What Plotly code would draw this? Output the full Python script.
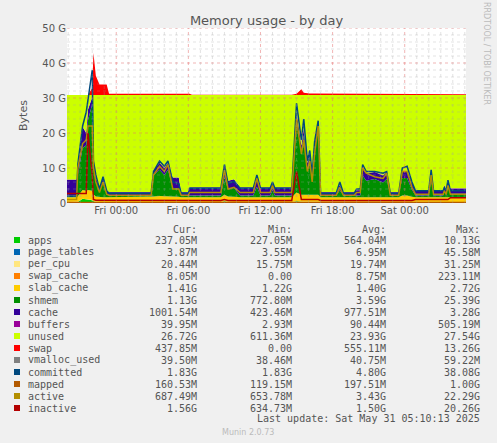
import plotly.graph_objects as go
from datetime import datetime, timedelta

hours = [-4.1,-3.3,-3.2,-2.8,-2.5,-2.35,-2.0,-1.9,-1.7,-1.4,-1.1,-0.8,-0.6,2.9,3.1,3.6,4.0,4.3,4.7,5.2,5.4,6.0,6.1,6.3,8.7,
         9.0,9.3,9.8,10.3,11.4,11.7,12.0,12.8,13.0,13.2,14.6,15.0,15.4,15.6,15.9,16.1,16.3,16.5,16.8,17.0,18.3,18.6,18.9,19.8,
         20.0,20.3,20.5,20.8,21.5,22.2,22.5,22.8,23.5,23.8,24.2,24.6,24.9,26.0,26.2,26.4,27.2,27.3,27.45,27.6,27.8,29.1]
apps = [.24,.24,.3,1.2,1,1,.8,.5,.3,.24,.24,.24,.24,.24,.24,.24,.24,.24,.24,.24,.24,.24,.24,.24,.24,
        .5,.3,.24,.24,.24,.24,.24,.24,.24,.24,.24,.5,.3,.3,.3,.3,.3,.3,.3,.24,.24,.24,.24,.24,
        .24,.24,.24,.24,.24,.24,.24,.24,.24,.3,.3,.24,.24,.24,.24,.24,.24,.24,.24,.24,.24,.24]
slab_cache = [1.4,1.4,1.6,2.5,2.5,2.7,2.7,2,1.5,1.4,1.4,1.4,1.4,1.4,1.6,1.7,1.7,1.7,1.5,1.5,1.4,1.4,1.4,1.4,1.4,
              1.8,1.5,1.5,1.4,1.4,1.4,1.4,1.4,1.4,1.4,1.4,2.5,2,2,2,2,2,2,2,1.4,1.4,1.4,1.4,1.4,
              1.4,1.4,1.6,1.6,1.6,1.6,1.6,1.4,1.4,1.8,1.8,1.5,1.4,1.4,1.4,1.4,1.4,1.4,1.4,1.4,1.4,1.4]
shmem = [.5,.5,6,12,13,20,24.7,8,4,1.5,4.5,1.0,.5,.5,6,7.5,6,7.5,2.5,2.5,.5,.5,.5,.5,.5,
         5,2,2.5,.5,.5,3,.5,.5,2,.5,.5,20,12,17,7,11,5,13,19,.5,.5,2,.5,.5,
         .5,.5,6,4.5,5,4,5,.5,.5,5,5,2,.5,.5,5,.5,.5,2,.5,3,1,1]
cache = [4.5,4.5,2,6,3.5,3,2,2,1.5,1,1,.9,.9,.9,1.5,2,2,2,3,3,.9,.9,2.3,2.3,2.3,
         3,2.5,2.5,2.3,2.3,2.5,2.3,2.3,2.3,2.3,2.3,3,2,2,2,2,2,2,2,.9,.9,1.5,.9,.9,
         1.5,1.5,2,2,2,2,2,.9,.9,2,2,2,1.5,1.5,2.5,1.5,1.5,1.5,1.5,2,1.5,1.5]
unused = [24.18,24.18,20.92,9.12,10.82,4.12,0.62,18.32,23.52,26.68,23.68,27.28,27.78,27.78,21.48,19.38,20.88,19.38,23.58,23.58,27.78,27.78,26.38,26.38,26.38,
          20.52,24.52,24.08,26.38,26.38,23.68,26.38,26.38,24.88,26.38,26.38,4.82,14.52,9.52,19.52,15.52,21.52,13.52,7.52,27.78,27.78,25.68,27.78,27.78,
          27.18,27.18,20.98,22.48,21.98,22.98,21.98,27.78,27.78,21.72,21.72,25.08,27.18,27.18,21.68,27.18,27.18,25.68,27.18,24.18,26.68,26.68]
swap = [0,0,0,0,0,0,2,12,5.5,3,3,3,.3,.3,.3,.3,.3,.3,.3,.3,.3,.3,.3,.05,.05,
        .05,.05,.05,.05,.05,.05,.05,.05,.05,.05,.05,.3,1.6,.6,.4,.4,.4,.4,.4,.4,.4,.4,.4,.4,
        .4,.2,.2,.2,.2,.2,.2,.2,.2,.2,.2,.2,.2,.2,.2,.2,.2,.2,.2,.2,.2,.2]
committed = [1.9,1.9,11,22,26,30,38,12,8,4,7.5,3.5,2.8,2.8,9,12,10.5,12,6,5.5,2.8,2.8,4.2,4.2,4.2,
             11,5.5,6.2,4.2,4.2,8,4.2,4.2,6,4.2,4.2,28.5,18,24,12,15,8,17.5,23.5,2.8,2.8,6,2.8,2.8,
             4,4,11,9,9,8.5,9,2.8,2.8,10,10.5,6,3.5,3.5,9.5,3.5,3.5,4.5,3.5,6.5,3.5,3.5]
active = [1.0,1.0,10,17,18,22,22,10,6,3,6,2.5,2.2,2.2,8,10.5,9,11,4,4,2.2,2.2,3,3,3,
          9.5,4,4.5,3,3,7,3,3,5,3,3,24,14,18,9,12,6,14,22,2.2,2.2,4.5,2.2,2.2,
          3,3,10,8.5,7.5,7,8.5,2.2,2.2,9,9,4.5,2.5,2.5,8,2.5,2.5,3.5,2.5,5,2.5,2.5]
inactive = [2.7,2.7,2.7,2.7,2.7,20,8,1,.8,.8,.8,.7,.7,.7,.7,.7,.7,.7,.7,.7,.7,.7,.7,.7,.7,
            1,.7,.7,.7,.7,.7,.7,.7,.7,.7,.7,9,1,1,1,1,1,1,1,.7,.7,.7,.7,.7,
            .7,.7,.7,.7,.7,.7,.7,.7,.7,.7,.7,.7,1,1,1,1,1,1,1,1,1.5,1.5]
page_tables_v, per_cpu_v, swap_cache_v, buffers_v = 0.004, 0.02, 0.008, 0.04
mapped_v, vmalloc_v = 0.16, 0.04

legend_names = ["apps","page_tables","per_cpu","swap_cache","slab_cache","shmem","cache","buffers",
                "unused","swap","vmalloc_used","committed","mapped","active","inactive"]
legend_colors = ["#00CC00","#0066B3","#FFE680","#FF8000","#FFCC00","#008F00","#330099","#990099",
                 "#CCFF00","#FF0000","#808080","#00487D","#B35A00","#B38F00","#B30000"]
cur = ["237.05M","3.87M","20.44M","8.05M","1.41G","1.13G","1001.54M","39.95M","26.72G","437.85M","39.50M","1.83G","160.53M","687.49M","1.56G"]
mn = ["227.05M","3.55M","15.75M","0.00","1.22G","772.80M","423.46M","2.93M","611.36M","0.00","38.46M","1.83G","119.15M","653.78M","634.73M"]
avg = ["564.04M","6.95M","19.74M","8.75M","1.40G","3.59G","977.51M","90.44M","23.93G","555.11M","40.75M","4.80G","197.51M","3.43G","1.50G"]
mx = ["10.13G","45.58M","31.25M","223.11M","2.72G","25.39G","3.28G","505.19M","27.54G","13.26G","59.22M","38.08G","1.00G","22.29G","20.26G"]

base = datetime(2025, 5, 30)
t = [base + timedelta(hours=h) for h in hours]
n = len(t)
G = 1e9
stack = {"apps": apps, "page_tables": [page_tables_v]*n, "per_cpu": [per_cpu_v]*n,
         "swap_cache": [swap_cache_v]*n, "slab_cache": slab_cache, "shmem": shmem,
         "cache": cache, "buffers": [buffers_v]*n, "unused": unused, "swap": swap}
lines = {"vmalloc_used": [vmalloc_v]*n, "committed": committed, "mapped": [mapped_v]*n,
         "active": active, "inactive": inactive}
cmap = dict(zip(legend_names, legend_colors))

fig = go.Figure()
for k, v in stack.items():
    fig.add_trace(go.Scatter(x=t, y=[a*G for a in v], stackgroup="s", mode="lines",
                             line=dict(width=0, color=cmap[k]), fillcolor=cmap[k], name=k, showlegend=False))
for k, v in lines.items():
    fig.add_trace(go.Scatter(x=t, y=[a*G for a in v], mode="lines",
                             line=dict(width=1.5, color=cmap[k]), name=k, showlegend=False))

L, R, T, B = 67, 466, 28, 203
W, H = 497, 443
def px(x): return (x - L) / (R - L)
def py(y): return (B - y) / (B - T)

xstart, xend = base+timedelta(hours=-4.1), base+timedelta(hours=29.1)
fig.update_layout(
    width=W, height=H, paper_bgcolor="#F0F0F0", plot_bgcolor="white",
    margin=dict(l=L, r=W-R, t=T, b=H-B),
    font=dict(family="DejaVu Sans", size=10, color="#555"),
    title=dict(text="Memory usage - by day", x=0.5, xref="paper", y=1-20/H, yanchor="middle",
               font=dict(size=13, color="#555")),
    xaxis=dict(range=[xstart, xend],
               tickvals=[base+timedelta(hours=h) for h in [0,6,12,18,24]],
               tickformat="%a %H:%M", showgrid=False, showline=False, zeroline=False, ticks="",
               tickfont=dict(size=10, color="#555")),
    yaxis=dict(range=[0, 50*G], tickvals=[0,10*G,20*G,30*G,40*G,50*G],
               ticktext=["0","10 G","20 G","30 G","40 G","50 G"], showgrid=False,
               zeroline=False, title=dict(text="Bytes", font=dict(size=11, color="#555"), standoff=12),
               tickfont=dict(size=10, color="#555")),
)

shapes = []
for h in range(-4, 30):
    major = h % 6 == 0
    shapes.append(dict(type="line", xref="x", yref="paper", x0=base+timedelta(hours=h), x1=base+timedelta(hours=h),
                       y0=0, y1=1, layer="above",
                       line=dict(color="rgba(230,110,110,0.5)" if major else "rgba(160,160,160,0.3)", width=1, dash="dot")))
for g in range(2, 51, 2):
    major = g % 10 == 0
    shapes.append(dict(type="line", xref="paper", yref="y", x0=0, x1=1, y0=g*G, y1=g*G, layer="above",
                       line=dict(color="rgba(230,110,110,0.5)" if major else "rgba(160,160,160,0.3)", width=1, dash="dot")))

ann = []
mono = dict(family="DejaVu Sans Mono", size=10, color="#555")
for txt, x in [("Cur:",199),("Min:",294),("Avg:",388),("Max:",482)]:
    ann.append(dict(text=txt, x=px(x), y=py(229), xanchor="right", yanchor="middle", font=mono))
for i, name in enumerate(legend_names):
    y = 240 + 12*i
    shapes.append(dict(type="rect", xref="paper", yref="paper", x0=px(14), x1=px(20),
                       y0=py(y-3), y1=py(y+3), fillcolor=legend_colors[i], line=dict(width=0)))
    ann.append(dict(text=name, x=px(26), y=py(y), xanchor="left", yanchor="middle", font=mono))
    for vals, x in [(cur,199),(mn,294),(avg,388),(mx,482)]:
        ann.append(dict(text=vals[i], x=px(x), y=py(y), xanchor="right", yanchor="middle", font=mono))
ann.append(dict(text="Last update: Sat May 31 05:10:13 2025", x=px(482), y=py(419), xanchor="right",
                yanchor="middle", font=mono))
ann.append(dict(text="Munin 2.0.73", x=px(248), y=py(432), xanchor="center", yanchor="middle",
                font=dict(family="DejaVu Sans", size=8, color="#BBBBBB")))
ann.append(dict(text="RRDTOOL / TOBI OETIKER", x=px(487), y=py(53), xanchor="center", yanchor="middle",
                textangle=90, font=dict(family="DejaVu Sans", size=8, color="#BBBBBB")))
for a in ann:
    a.update(xref="paper", yref="paper", showarrow=False)
fig.update_layout(annotations=ann, shapes=shapes)
fig.write_html("out.html", post_script="document.body.style.margin='0';",
               config={"displayModeBar": False})
